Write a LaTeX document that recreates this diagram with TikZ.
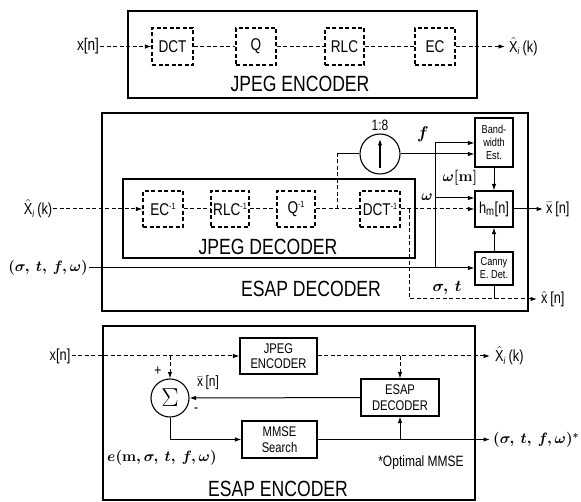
\RequirePackage{fix-cm}
\documentclass[tikz,border=0pt]{standalone}
\usepackage{fontspec}
\setmainfont{Liberation Sans}[FakeStretch=0.8]
\usetikzlibrary{arrows.meta}
\newcommand{\sz}[1]{\fontsize{#1}{#1}\selectfont}
\newcommand{\Xhat}{$\hat{\mbox{X}}_{\mbox{\sz{10}\itshape i}}$\,(k)}
\newcommand{\inv}{\raisebox{6pt}{\sz{9}-1}}
\begin{document}
\begin{tikzpicture}[x=1pt,y=-1pt,
  ln/.style={line width=1pt},
  dl/.style={line width=1pt, dash pattern=on 4pt off 2.5pt},
  arr/.style={-{Latex[length=6.5pt,width=4.5pt]}},
  outer/.style={draw, line width=1.4pt, inner sep=0pt},
  dbox/.style={draw, line width=1.1pt, dash pattern=on 4pt off 2.5pt, inner sep=0pt, minimum height=37pt, font=\sz{17}},
  sbox/.style={draw, line width=1.1pt, inner sep=0pt, align=center},
  big/.style={font=\sz{22}, inner sep=0pt},
  lab/.style={font=\sz{16}, inner sep=1pt},
  mlab/.style={font=\sz{15}\boldmath, inner sep=1pt}]
\useasboundingbox (0,0) rectangle (581,502);
% ---------------- top: JPEG encoder
\node[outer, minimum width=349pt, minimum height=87pt] (T) at (302.5,54.5) {};
\node[dbox, minimum width=41pt] (DCT) at (172.5,46.5) {DCT};
\node[dbox, minimum width=40pt] (Q) at (256,46.5) {Q};
\node[dbox, minimum width=39pt] (RLC) at (344.5,46.5) {RLC};
\node[dbox, minimum width=40pt] (EC) at (435,46.5) {EC};
\node[lab, font=\sz{17}] (x1) at (88,46.5) {x[n]};
\node[big] (tj) at (300,84) {JPEG ENCODER};
\coordinate (o1) at (505,46.5);
\node[lab, anchor=west] (X1) at (508,46.5) {\Xhat};
\draw[dl,arr] (x1) -- (DCT);
\draw[dl] (DCT) -- (Q);
\draw[dl] (Q) -- (RLC);
\draw[dl] (RLC) -- (EC);
\draw[dl,arr] (EC) -- (o1);
% ---------------- middle: ESAP decoder
\node[outer, minimum width=426pt, minimum height=198pt] (D) at (315,212) {};
\node[outer, minimum width=292pt, minimum height=79pt] (JD) at (269,218.5) {};
\node[dbox, minimum width=40pt, minimum height=36pt] (ECi) at (163,209) {EC\inv};
\node[dbox, minimum width=38pt, minimum height=36pt] (RLCi) at (230,209) {RLC\inv};
\node[dbox, minimum width=38pt, minimum height=36pt] (Qi) at (296,209) {Q\inv};
\node[dbox, minimum width=40pt, minimum height=36pt] (DCTi) at (380,209) {DCT\inv};
\node[big] (tjd) at (268,247) {JPEG DECODER};
\node[big] (ted) at (311,289) {ESAP DECODER};
\node[draw, circle, line width=1.1pt, minimum size=40pt, inner sep=0pt] (U) at (380,154) {};
\coordinate (ua) at (380,168);
\coordinate (ub) at (380,139);
\draw[line width=1.1pt, arr] (ua) -- (ub);
\node[lab, font=\sz{15}] (r18) at (380,125) {1:8};
\node[sbox, minimum width=38pt, minimum height=49pt, font=\fontsize{11.5}{13}\selectfont] (BW) at (494,142.5) {Band-\\width\\Est.};
\node[sbox, minimum width=38pt, minimum height=36pt, font=\sz{16}] (H) at (494,209) {h$_{\mbox{\sz{12}m}}$[n]};
\node[sbox, minimum width=38pt, minimum height=33pt, font=\fontsize{11.5}{13}\selectfont] (C) at (494,268.5) {Canny\\E. Det.};
\node[lab] (X2) at (38,209) {\Xhat};
\node[mlab, anchor=east] (sig) at (89,268) {$(\sigma,\ t,\ f,\omega)$};
\draw[dl,arr] (X2) -- (ECi);
\draw[dl] (ECi) -- (RLCi);
\draw[dl] (RLCi) -- (Qi);
\draw[dl] (Qi) -- (DCTi);
\coordinate (b1) at (337,209);
\coordinate (b1u) at (337,154);
\draw[dl] (b1) -- (b1u);
\draw[ln] (b1u) -- (U);
\draw[ln,arr] (U) -- (U -| BW.west);
\draw[ln,arr] (sig) -- (sig -| C.west);
\coordinate (v1) at (435,268);
\coordinate (v2) at (435,143);
\coordinate (v3) at (435,198);
\draw[ln,arr] (v1) -- (v2) -- (v2 -| BW.west);
\draw[ln,arr] (v3) -- (v3 -| H.west);
\draw[dl,arr] (DCTi) -- (H);
\coordinate (b2) at (409,209);
\coordinate (b3) at (409,299);
\coordinate (o2) at (537,299);
\draw[dl,arr] (b2) -- (b3) -- (o2);
\draw[ln] (C) -- (C |- b3);
\draw[ln,arr] (BW) -- (H);
\draw[ln,arr] (C) -- (H);
\coordinate (o3) at (543,209);
\draw[ln,arr] (H) -- (o3);
\node[lab, anchor=west] (xb) at (545,209) {$\bar{\mbox{x}}$\,[n]};
\node[lab, anchor=west] (xh) at (540,299) {$\hat{\mbox{x}}$\,[n]};
\node[mlab, font=\sz{17}\boldmath] (lf) at (423,134) {$f$};
\node[mlab] (lwm) at (460,178) {$\omega[\mathbf{m}]$};
\node[mlab, anchor=east] (lw) at (434,197) {$\omega$};
\node[mlab, font=\sz{16}\boldmath] (lst) at (447,288) {$\sigma,\ t$};
% ---------------- bottom: ESAP encoder
\node[outer, minimum width=372pt, minimum height=174pt] (E) at (289,413) {};
\node[lab, font=\sz{16}] (x3) at (60,356) {x[n]};
\node[sbox, minimum width=77pt, minimum height=36pt, font=\fontsize{14}{15.5}\selectfont] (JE) at (278.5,356) {JPEG\\ENCODER};
\node[draw, circle, minimum size=38pt, inner sep=0pt, line width=1.1pt, font=\sz{26}] (S) at (170,398) {$\Sigma$};
\node[sbox, minimum width=78pt, minimum height=37pt, font=\fontsize{14}{15.5}\selectfont] (ED) at (400,397.5) {ESAP\\DECODER};
\node[sbox, minimum width=75pt, minimum height=37pt, font=\fontsize{14}{15.5}\selectfont] (MS) at (279.5,439.5) {MMSE\\Search};
\node[lab, anchor=west] (X3) at (494,356) {\Xhat};
\node[mlab, anchor=west] (sig3) at (492,440) {$(\sigma,\ t,\ f,\omega)^{*}$};
\node[lab, font=\sz{15}] (plus) at (158,371) {+};
\node[lab, font=\sz{15}] (minus) at (196,410) {-};
\node[lab, font=\sz{15}] (xbar3) at (208,383) {$\bar{\mbox{x}}$\,[n]};
\node[mlab, anchor=west] (elab) at (106,458) {$e(\mathbf{m},\sigma,\ t,\ f,\omega)$};
\node[lab, font=\sz{15}] (opt) at (421,463) {*Optimal MMSE};
\node[big] (tee) at (278,489) {ESAP ENCODER};
\draw[dl,arr] (x3) -- (JE);
\coordinate (o4) at (490,356);
\draw[dl,arr] (JE) -- (o4);
\coordinate (b4) at (170,356);
\draw[dl,arr] (b4) -- (S);
\coordinate (b5) at (400,356);
\draw[dl,arr] (b5) -- (ED);
\draw[ln,arr] (ED) -- (S);
\draw[ln,arr] (S) |- (MS);
\coordinate (o5) at (490,439.5);
\draw[ln,arr] (MS) -- (o5);
\coordinate (b6) at (400,439.5);
\draw[ln,arr] (b6) -- (ED);
\end{tikzpicture}
\end{document}
